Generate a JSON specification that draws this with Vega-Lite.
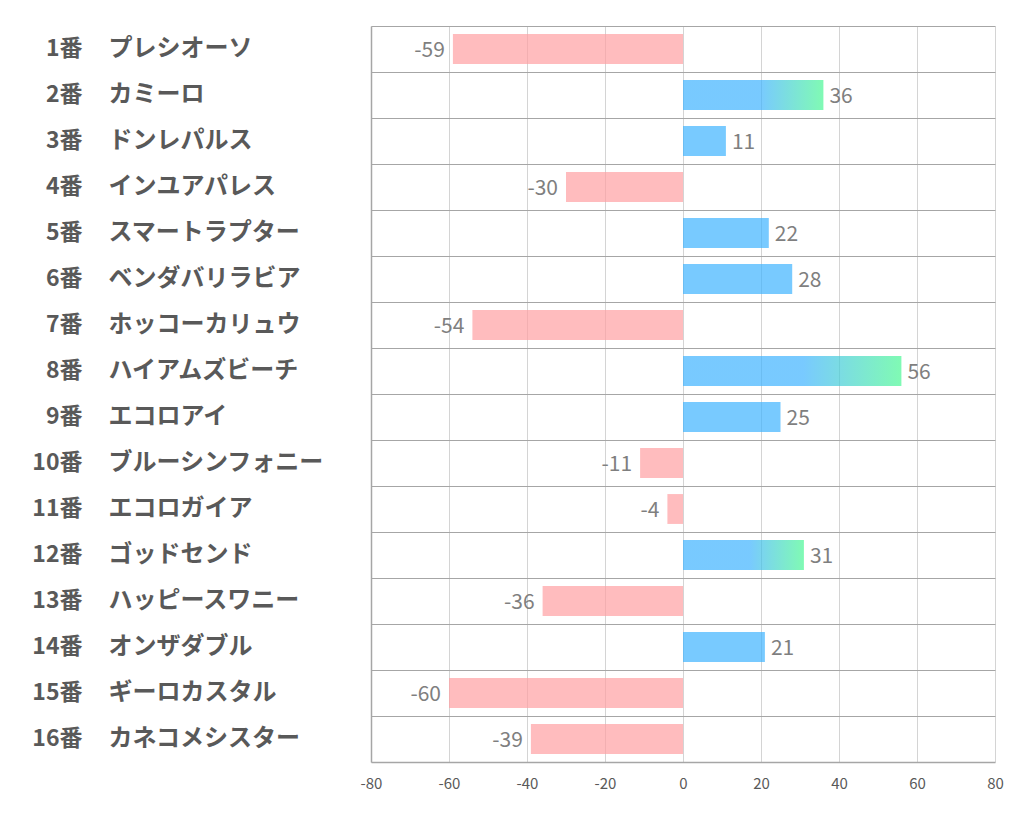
{
  "$schema": "https://vega.github.io/schema/vega-lite/v6.json",
  "width": 624,
  "height": 736,
  "autosize": "none",
  "padding": {"left": 371, "top": 26, "right": 27, "bottom": 72},
  "config": {
    "view": {"stroke": null},
    "font": "Noto Sans CJK JP"
  },
  "data": {
    "values": [
      {"no": 1, "horse": "1番 プレシオーソ", "value": -59},
      {"no": 2, "horse": "2番 カミーロ", "value": 36},
      {"no": 3, "horse": "3番 ドンレパルス", "value": 11},
      {"no": 4, "horse": "4番 インユアパレス", "value": -30},
      {"no": 5, "horse": "5番 スマートラプター", "value": 22},
      {"no": 6, "horse": "6番 ベンダバリラビア", "value": 28},
      {"no": 7, "horse": "7番 ホッコーカリュウ", "value": -54},
      {"no": 8, "horse": "8番 ハイアムズビーチ", "value": 56},
      {"no": 9, "horse": "9番 エコロアイ", "value": 25},
      {"no": 10, "horse": "10番 ブルーシンフォニー", "value": -11},
      {"no": 11, "horse": "11番 エコロガイア", "value": -4},
      {"no": 12, "horse": "12番 ゴッドセンド", "value": 31},
      {"no": 13, "horse": "13番 ハッピースワニー", "value": -36},
      {"no": 14, "horse": "14番 オンザダブル", "value": 21},
      {"no": 15, "horse": "15番 ギーロカスタル", "value": -60},
      {"no": 16, "horse": "16番 カネコメシスター", "value": -39}
    ]
  },
  "encoding": {
    "y": {"field": "horse", "type": "nominal", "sort": {"field": "no", "op": "min", "order": "ascending"}, "scale": {"padding": 0}},
    "x": {"field": "value", "type": "quantitative", "scale": {"domain": [-80, 80], "nice": false}}
  },
  "layer": [
    {
      "mark": {"type": "bar", "fill": "#ff9fa3", "fillOpacity": 0.7, "height": {"band": 0.65}},
      "transform": [{"filter": "datum.value < 0"}],
      "encoding": {
        "x": {"field": "value", "type": "quantitative", "scale": {"domain": [-80, 80], "nice": false},
          "axis": {"values": [-80, -60, -40, -20, 0, 20, 40, 60, 80], "title": null, "grid": true, "gridColor": "#d4d4d4", "gridWidth": 1, "ticks": false, "domain": true, "domainColor": "#a6a6a6", "domainWidth": 1.5, "labelPadding": 14, "labelFontSize": 15, "labelColor": "#595959", "labelFont": "Noto Sans CJK JP", "labelFlush": false, "labelExpr": "'' + datum.value"}},
        "y": {"field": "horse", "type": "nominal", "sort": {"field": "no", "op": "min", "order": "ascending"}, "scale": {"padding": 0},
          "axis": {"orient": "left", "title": null, "ticks": false, "domain": true, "domainColor": "#a6a6a6", "domainWidth": 1.5, "grid": true, "bandPosition": 0, "gridColor": "#a6a6a6", "gridWidth": 1.2,
            "labelExpr": "split(datum.value, ' ')[0]", "labelAlign": "right", "labelPadding": 289, "labelFontSize": 23, "labelFontWeight": "bold", "labelColor": "#595959", "labelFont": "Noto Sans CJK JP", "labelLimit": 400}}
      }
    },
    {
      "mark": {"type": "bar", "fill": "#3fb3ff", "fillOpacity": 0.7, "height": {"band": 0.65}},
      "transform": [{"filter": "datum.value >= 0 && datum.value <= 30"}],
      "encoding": {
        "y": {"field": "horse", "type": "nominal", "sort": {"field": "no", "op": "min", "order": "ascending"}, "scale": {"padding": 0},
          "axis": {"orient": "left", "title": null, "ticks": false, "domain": false, "grid": false,
            "labelExpr": "split(datum.value, ' ')[1]", "labelAlign": "left", "labelPadding": 263, "labelFontSize": 24, "labelFontWeight": "bold", "labelColor": "#595959", "labelFont": "Noto Sans CJK JP", "labelLimit": 400}}
      }
    },
    {
      "mark": {"type": "bar", "fillOpacity": 0.7, "height": {"band": 0.65},
        "fill": {"gradient": "linear", "x1": 0, "y1": 0, "x2": 1, "y2": 0,
          "stops": [{"offset": 0, "color": "#3fb3ff"}, {"offset": 0.55, "color": "#3fb3ff"}, {"offset": 1, "color": "#4af894"}]}},
      "transform": [{"filter": "datum.value > 30"}],
      "encoding": {"y": {"field": "horse", "type": "nominal", "sort": {"field": "no", "op": "min", "order": "ascending"}, "axis": null}}
    },
    {
      "mark": {"type": "text", "align": "left", "baseline": "middle", "dx": 6, "dy": 2, "fontSize": 21, "color": "#7f7f7f", "font": "Noto Sans CJK JP"},
      "transform": [{"filter": "datum.value >= 0"}],
      "encoding": {"y": {"field": "horse", "type": "nominal", "sort": {"field": "no", "op": "min", "order": "ascending"}, "axis": null}, "text": {"field": "value", "type": "nominal"}}
    },
    {
      "mark": {"type": "text", "align": "right", "baseline": "middle", "dx": -8, "dy": 2, "fontSize": 21, "color": "#7f7f7f", "font": "Noto Sans CJK JP"},
      "transform": [{"filter": "datum.value < 0"}],
      "encoding": {"y": {"field": "horse", "type": "nominal", "sort": {"field": "no", "op": "min", "order": "ascending"}, "axis": null}, "text": {"field": "value", "type": "nominal"}}
    }
  ],
  "resolve": {"axis": {"y": "independent"}}
}
